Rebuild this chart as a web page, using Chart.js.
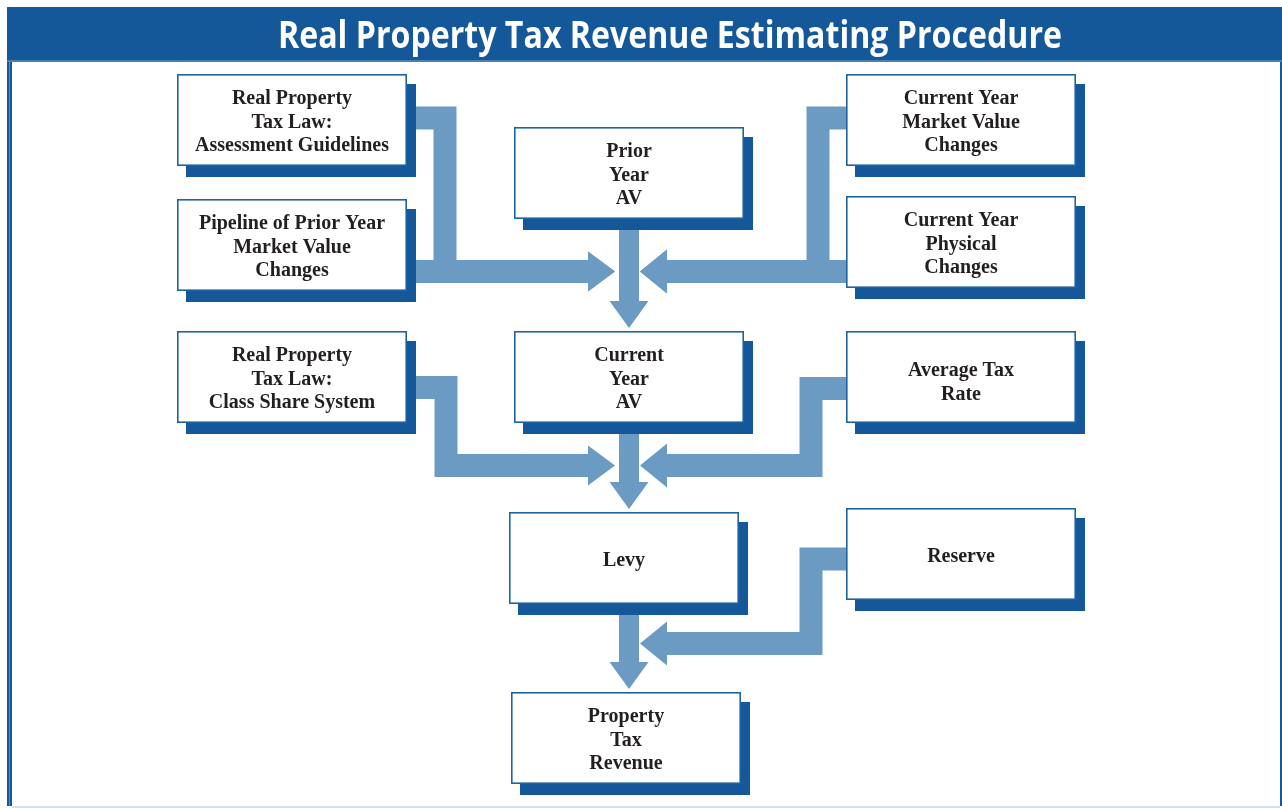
<!DOCTYPE html>
<html>
<head>
<meta charset="utf-8">
<title>Real Property Tax Revenue Estimating Procedure</title>
<script src="https://cdn.jsdelivr.net/npm/chart.js@4/dist/chart.umd.min.js"></script>
<style>
    html, body { margin: 0; padding: 0; background: #ffffff; }
    #flow { display: block; }
</style>
</head>
<body>
<canvas id="flow" width="1282" height="808"></canvas>
<script>
// chart text
var chartTitle = "Real Property Tax Revenue Estimating Procedure";

// boxes (in chart units)
var nodeLabels = [
    ["Real Property", "Tax Law:", "Assessment Guidelines"],
    ["Pipeline of Prior Year", "Market Value", "Changes"],
    ["Real Property", "Tax Law:", "Class Share System"],
    ["Prior", "Year", "AV"],
    ["Current", "Year", "AV"],
    ["Levy"],
    ["Property", "Tax", "Revenue"],
    ["Current Year", "Market Value", "Changes"],
    ["Current Year", "Physical", "Changes"],
    ["Average Tax", "Rate"],
    ["Reserve"]
];
var nodeLeft = [177, 177, 177, 514, 514, 509, 511, 846, 846, 846, 846];
var nodeTop  = [74, 199, 331, 127, 331, 512, 692, 74, 196, 331, 508];

// main flow down the middle: box -> box
var stemFrom = [3, 4, 5];
var stemTo   = [4, 5, 6];
var stemX    = 629;
var stemJoinY = [271.5, 465.5, 643.5];

// side inputs feeding the stems
var feedSource = [0, 1, 7, 8, 2, 9, 10];
var feedStem   = [0, 0, 0, 0, 1, 1, 2];
var feedTapY   = [118, 271.5, 118, 271.5, 387.5, 388.5, 559];
var feedBusX   = [445, 445, 818, 818, 446, 811, 811];


var BOX_W = 230, BOX_H = 92;
var SHADOW_X = 10, SHADOW_Y = 11;
var DARK = "#14589a";
var ARROW = "#6b9bc3";
var INK = "#231f20";

function isRightSide(i) {
    return nodeLeft[i] > stemX;
}

var flowPlugin = {
    id: "flowPlugin",
    beforeDatasetsDraw: function(chart) {
        var ctx = chart.ctx;
        var xs = chart.scales.x, ys = chart.scales.y;
        var px = function(v) { return xs.getPixelForValue(v); };
        var py = function(v) { return ys.getPixelForValue(v); };

        ctx.save();

        // frame + title bar
        ctx.fillStyle = "#ffffff";
        ctx.fillRect(0, 0, chart.width, chart.height);
        ctx.fillStyle = DARK;
        ctx.fillRect(px(7), py(7), px(1282) - px(7), py(60) - py(7));
        ctx.fillStyle = "#4a80b8";
        ctx.fillRect(px(7), py(60), px(1282) - px(7), 2);
        ctx.fillStyle = DARK;
        ctx.fillRect(px(7), py(62), 5, py(806) - py(62));
        ctx.fillStyle = "#5a8cc0";
        ctx.fillRect(px(9), py(62), 1, py(806) - py(62));
        ctx.fillStyle = DARK;
        ctx.fillRect(px(1280), py(62), 2, py(806) - py(62));
        ctx.fillStyle = "#d5dfeb";
        ctx.fillRect(px(12), py(806), px(1280) - px(12), 2);

        // title
        ctx.font = "bold 38px 'Open Sans', 'Noto Sans', sans-serif";
        ctx.fillStyle = "#ffffff";
        ctx.textAlign = "center";
        ctx.textBaseline = "alphabetic";
        var tw = ctx.measureText(chartTitle).width;
        var sx = 784 / tw;
        ctx.save();
        ctx.translate(px(670), py(48));
        ctx.scale(sx, 1);
        ctx.fillText(chartTitle, 0, 0);
        ctx.restore();

        // side feeds
        ctx.strokeStyle = ARROW;
        ctx.fillStyle = ARROW;
        ctx.lineJoin = "miter";
        ctx.lineCap = "butt";
        feedSource.forEach(function(src, k) {
            var right = isRightSide(src);
            var edge = right ? nodeLeft[src] : nodeLeft[src] + BOX_W;
            var joinY = stemJoinY[feedStem[k]];
            var tip = right ? stemX + 11 : stemX - 14;
            var base = right ? tip + 27 : tip - 27;
            var half = right ? 22 : 20;
            var pts = [[edge, feedTapY[k]], [feedBusX[k], feedTapY[k]], [feedBusX[k], joinY], [base, joinY]];
            pts = pts.filter(function(p, i) {
                return i === 0 || p[0] !== pts[i - 1][0] || p[1] !== pts[i - 1][1];
            });
            ctx.lineWidth = 23;
            ctx.beginPath();
            pts.forEach(function(p, i) {
                if (i === 0) ctx.moveTo(px(p[0]), py(p[1]));
                else ctx.lineTo(px(p[0]), py(p[1]));
            });
            ctx.stroke();
            ctx.beginPath();
            ctx.moveTo(px(base), py(joinY - half));
            ctx.lineTo(px(tip), py(joinY));
            ctx.lineTo(px(base), py(joinY + half));
            ctx.closePath();
            ctx.fill();
        });

        // main stems
        stemFrom.forEach(function(a, k) {
            var b = stemTo[k];
            var y0 = nodeTop[a] + BOX_H + SHADOW_Y - 1;
            var tipY = nodeTop[b] - 3;
            var baseY = tipY - 27;
            ctx.fillRect(px(stemX - 10), py(y0), px(stemX + 10) - px(stemX - 10), py(baseY) - py(y0));
            ctx.beginPath();
            ctx.moveTo(px(stemX - 19.5), py(baseY));
            ctx.lineTo(px(stemX), py(tipY));
            ctx.lineTo(px(stemX + 19.5), py(baseY));
            ctx.closePath();
            ctx.fill();
        });

        // boxes
        nodeLabels.forEach(function(lines, i) {
            var l = px(nodeLeft[i]), t = py(nodeTop[i]);
            var w = px(nodeLeft[i] + BOX_W) - l, h = py(nodeTop[i] + BOX_H) - t;
            ctx.fillStyle = DARK;
            ctx.fillRect(l + SHADOW_X - 1, t + SHADOW_Y - 1, w, h + 1);
            ctx.fillStyle = "#ffffff";
            ctx.fillRect(l, t, w, h);
            ctx.strokeStyle = "#1f63a3";
            ctx.lineWidth = 1.6;
            ctx.strokeRect(l + 0.8, t + 0.8, w - 1.6, h - 1.6);

            ctx.fillStyle = INK;
            ctx.font = "bold 20px 'Liberation Serif', 'DejaVu Serif', serif";
            ctx.textAlign = "center";
            ctx.textBaseline = "middle";
            var cx = l + w / 2;
            var cy = t + h / 2;
            if (lines.length === 2) cy += 3;
            lines.forEach(function(txt, j) {
                var y = cy + (j - (lines.length - 1) / 2) * 23.7;
                ctx.fillText(txt, cx, y + 2.5);
            });
        });

        ctx.restore();
    }
};

var ctx = document.getElementById("flow").getContext("2d");
var flowChart = new Chart(ctx, {
    type: "scatter",
    data: {
        datasets: [{
            label: "boxes",
            data: nodeLeft.map(function(x, i) { return { x: x + BOX_W / 2, y: nodeTop[i] + BOX_H / 2 }; }),
            pointRadius: 0,
            pointHoverRadius: 0
        }]
    },
    options: {
        responsive: false,
        animation: false,
        devicePixelRatio: 1,
        events: [],
        layout: { padding: 0 },
        plugins: {
            legend: { display: false },
            tooltip: { enabled: false },
            title: { display: false }
        },
        scales: {
            x: { type: "linear", min: 0, max: 1282, display: false },
            y: { type: "linear", min: 0, max: 808, reverse: true, display: false }
        }
    },
    plugins: [flowPlugin]
});
</script>
</body>
</html>
